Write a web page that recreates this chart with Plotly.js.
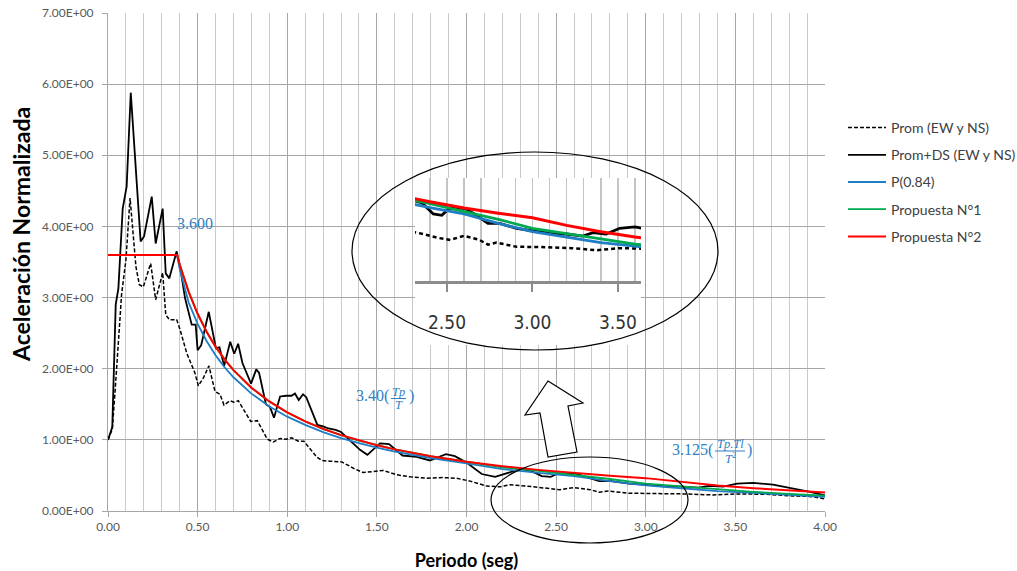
<!DOCTYPE html>
<html>
<head>
<meta charset="utf-8">
<script src="https://cdn.plot.ly/plotly-3.0.1.min.js"></script>
<style>
  html, body { margin: 0; padding: 0; background: #ffffff; }
  #chart { width: 1017px; height: 571px; }
</style>
</head>
<body>
<div id="chart"></div>
<script>
// ---- Spectra: period T (s) vs normalized acceleration ----
const promT = [0, 0.024, 0.04, 0.058, 0.076, 0.100, 0.123, 0.156, 0.175, 0.197, 0.238, 0.266, 0.305, 0.322, 0.342, 0.383,
  0.402, 0.439, 0.485, 0.504, 0.532, 0.563, 0.597, 0.625, 0.647, 0.681, 0.703, 0.727, 0.774, 0.796, 0.833, 0.889,
  0.922, 0.960, 0.993, 1.025, 1.062, 1.093, 1.164, 1.192, 1.239, 1.304, 1.378, 1.424, 1.536, 1.610, 1.685, 1.778,
  1.871, 1.945, 2.020, 2.113, 2.187, 2.243, 2.336, 2.447, 2.520, 2.600, 2.690, 2.740, 2.790, 2.906, 3.080, 3.228,
  3.377, 3.510, 3.675, 3.823, 3.916, 4.000];
const promSa = [1.00, 1.15, 1.70, 2.45, 3.05, 3.53, 4.40, 3.43, 3.18, 3.15, 3.48, 2.97, 3.35, 2.76, 2.69, 2.69,
  2.55, 2.22, 1.94, 1.76, 1.87, 2.04, 1.68, 1.64, 1.49, 1.55, 1.53, 1.55, 1.34, 1.26, 1.27, 1.01,
  0.97, 1.02, 1.01, 1.03, 0.98, 0.98, 0.76, 0.71, 0.70, 0.69, 0.59, 0.54, 0.57, 0.51, 0.48, 0.46,
  0.47, 0.46, 0.42, 0.35, 0.34, 0.37, 0.35, 0.315, 0.30, 0.33, 0.30, 0.265, 0.28, 0.25, 0.247, 0.24,
  0.225, 0.24, 0.235, 0.21, 0.205, 0.17];

const promDsT = [0, 0.024, 0.043, 0.058, 0.082, 0.104, 0.127, 0.182, 0.201, 0.244, 0.266, 0.305, 0.322, 0.342, 0.383, 0.402,
  0.430, 0.467, 0.489, 0.500, 0.520, 0.562, 0.602, 0.622, 0.648, 0.682, 0.704, 0.726, 0.750, 0.798, 0.827, 0.843,
  0.881, 0.904, 0.926, 0.960, 0.995, 1.023, 1.043, 1.064, 1.088, 1.106, 1.168, 1.200, 1.230, 1.270, 1.300, 1.369,
  1.406, 1.447, 1.517, 1.568, 1.643, 1.722, 1.796, 1.885, 1.935, 2.000, 2.085, 2.160, 2.243, 2.300, 2.354, 2.420,
  2.470, 2.512, 2.605, 2.672, 2.740, 2.808, 2.906, 3.003, 3.100, 3.198, 3.295, 3.354, 3.432, 3.510, 3.600, 3.710,
  3.823, 3.916, 4.000];
const promDsSa = [1.00, 1.18, 2.90, 3.13, 4.25, 4.56, 5.88, 3.79, 3.86, 4.42, 3.76, 4.25, 3.34, 3.27, 3.65, 3.43,
  2.99, 2.62, 2.62, 2.26, 2.33, 2.80, 2.29, 2.30, 2.04, 2.38, 2.21, 2.35, 2.08, 1.79, 1.99, 1.94,
  1.50, 1.46, 1.31, 1.61, 1.62, 1.62, 1.65, 1.56, 1.64, 1.60, 1.21, 1.19, 1.16, 1.14, 1.11, 0.94,
  0.86, 0.79, 0.95, 0.94, 0.78, 0.76, 0.71, 0.80, 0.77, 0.68, 0.52, 0.48, 0.55, 0.59, 0.57, 0.49,
  0.48, 0.53, 0.53, 0.48, 0.42, 0.42, 0.385, 0.367, 0.348, 0.343, 0.328, 0.353, 0.343, 0.385, 0.395, 0.37,
  0.32, 0.27, 0.22];

const p84T = [0.385, 0.40, 0.45, 0.50, 0.55, 0.60, 0.65, 0.70, 0.80, 0.90, 1.00, 1.10, 1.20, 1.30, 1.40, 1.50,
  1.60, 1.80, 2.00, 2.20, 2.40, 2.60, 2.80, 3.00, 3.20, 3.40, 3.60, 3.80, 4.00];
const p84Sa = [3.60, 3.40, 2.93, 2.63, 2.39, 2.19, 2.02, 1.88, 1.65, 1.47, 1.326, 1.21, 1.11, 1.025, 0.955, 0.89,
  0.836, 0.745, 0.668, 0.59, 0.535, 0.49, 0.42, 0.36, 0.32, 0.28, 0.255, 0.225, 0.20];

const prop1T = [0.385, 0.40, 0.45, 0.50, 0.55, 0.60, 0.65, 0.70, 0.80, 0.90, 1.00, 1.10, 1.20, 1.30, 1.40, 1.50,
  1.60, 1.80, 2.00, 2.20, 2.40, 2.60, 2.80, 3.00, 3.20, 3.40, 3.60, 3.80, 4.00];
const prop1Sa = [3.60, 3.465, 3.08, 2.772, 2.52, 2.31, 2.132, 1.98, 1.733, 1.54, 1.386, 1.26, 1.155, 1.066, 0.99, 0.924,
  0.866, 0.77, 0.693, 0.615, 0.565, 0.51, 0.45, 0.385, 0.345, 0.305, 0.27, 0.24, 0.215];

const prop2T = [0, 0.385, 0.40, 0.45, 0.50, 0.55, 0.60, 0.65, 0.70, 0.80, 0.90, 1.00, 1.10, 1.20, 1.30, 1.40,
  1.50, 1.60, 1.80, 2.00, 2.20, 2.40, 2.60, 2.80, 3.00, 3.20, 3.40, 3.60, 3.80, 4.00];
const prop2Sa = [3.60, 3.60, 3.465, 3.08, 2.772, 2.52, 2.31, 2.132, 1.98, 1.733, 1.54, 1.386, 1.26, 1.155, 1.066, 0.99,
  0.924, 0.866, 0.77, 0.693, 0.63, 0.578, 0.533, 0.495, 0.462, 0.406, 0.36, 0.321, 0.288, 0.26];

const seriesNames = ['Prom (EW y NS)', 'Prom+DS (EW y NS)', 'P(0.84)', 'Propuesta N°1', 'Propuesta N°2'];
const yTickVals = [0, 1, 2, 3, 4, 5, 6, 7];
const yTickText = ['0.00E+00', '1.00E+00', '2.00E+00', '3.00E+00', '4.00E+00', '5.00E+00', '6.00E+00', '7.00E+00'];
const insetTickVals = [2.5, 3.0, 3.5];
const insetTickText = ['2.50', '3.00', '3.50'];

// ---- page geometry (pixels -> paper fractions) ----
const W = 1017, H = 571;
const M = { l: 108, r: 192, t: 13, b: 60, autoexpand: false };
const pw = W - M.l - M.r, ph = H - M.t - M.b;
const fx = px => (px - M.l) / pw;
const fy = py => (H - M.b - py) / ph;

const BLUE_TXT = '#2e7fc4';
const styles = [
  { color: '#000000', width: 1.5, dash: '4px,2px' },
  { color: '#000000', width: 1.8, dash: 'solid' },
  { color: '#1f7dc6', width: 1.8, dash: 'solid' },
  { color: '#00a84f', width: 1.8, dash: 'solid' },
  { color: '#ff0000', width: 2.0, dash: 'solid' }
];
const seriesX = [promT, promDsT, p84T, prop1T, prop2T];
const seriesY = [promSa, promDsSa, p84Sa, prop1Sa, prop2Sa];

const traces = [];
seriesX.forEach((xs, i) => {
  traces.push({
    type: 'scatter', mode: 'lines', x: xs, y: seriesY[i], name: seriesNames[i],
    legendgroup: 'g' + i, line: styles[i], hoverinfo: 'skip'
  });
});
// blank panel behind the magnified view's tick labels
traces.push({ type: 'scatter', mode: 'lines', x: [], y: [], xaxis: 'x2', yaxis: 'y2',
  showlegend: false, hoverinfo: 'skip' });
// magnified view of the long-period range
seriesX.forEach((xs, i) => {
  traces.push({
    type: 'scatter', mode: 'lines', x: xs, y: seriesY[i], xaxis: 'x3', yaxis: 'y3',
    showlegend: false, hoverinfo: 'skip', cliponaxis: true,
    line: { color: styles[i].color, width: styles[i].width + 1, dash: i === 0 ? '4px,3px' : 'solid' }
  });
});

const sans = 'Lato, "Liberation Sans", sans-serif';
const tickFont = { family: sans, size: 12, color: '#595959' };
const insetBox = { x0: 415, x1: 641, top: 178, axis: 281, bottom: 345 };

const arrowPts = [[548, 381], [583, 403], [568, 406], [577, 452], [548, 457], [540, 413], [525, 415]];
const arrowPath = 'M ' + arrowPts.map(p => fx(p[0]) + ',' + fy(p[1])).join(' L ') + ' Z';

const serif = 'Liberation Serif, "DejaVu Serif", serif';
function txt(text, px, py, size, xanchor) {
  return { text: text, x: fx(px), y: fy(py), xref: 'paper', yref: 'paper', showarrow: false,
    xanchor: xanchor || 'center', yanchor: 'middle', font: { family: serif, size: size, color: BLUE_TXT } };
}

const layout = {
  width: W, height: H,
  margin: M,
  paper_bgcolor: '#ffffff', plot_bgcolor: '#ffffff',
  showlegend: true,
  legend: {
    x: fx(843), y: fy(112), xanchor: 'left', yanchor: 'top',
    font: { family: sans, size: 14, color: '#404040' },
    bgcolor: 'rgba(0,0,0,0)', tracegroupgap: 6, itemwidth: 38
  },
  xaxis: {
    range: [0, 4], tick0: 0, dtick: 0.5, tickformat: '.2f',
    showgrid: true, gridcolor: '#a6a6a6', gridwidth: 1,
    minor: { dtick: 0.1, showgrid: true, gridcolor: '#cacaca', gridwidth: 1 },
    showline: true, linecolor: '#a6a6a6', linewidth: 1, zeroline: false,
    ticks: 'outside', ticklen: 5, tickcolor: '#a6a6a6',
    tickfont: tickFont,
    title: { text: 'Periodo (seg)', standoff: 21,
      font: { family: sans, size: 18, color: '#000000', weight: 'bold' } }
  },
  yaxis: {
    range: [0, 7], tickvals: yTickVals, ticktext: yTickText,
    showgrid: true, gridcolor: '#a6a6a6', gridwidth: 1,
    showline: true, linecolor: '#a6a6a6', linewidth: 1, zeroline: false,
    ticks: 'outside', ticklen: 5, tickcolor: '#a6a6a6', ticklabelstandoff: 6,
    tickfont: tickFont
  },
  xaxis2: { domain: [fx(insetBox.x0), fx(insetBox.x1)], anchor: 'y2', visible: false, range: [0, 1] },
  yaxis2: { domain: [fy(insetBox.bottom), fy(insetBox.axis)], anchor: 'x2', visible: false, range: [0, 1] },
  xaxis3: {
    domain: [fx(insetBox.x0), fx(insetBox.x1)], anchor: 'y3', range: [2.313, 3.635],
    tickvals: insetTickVals, ticktext: insetTickText,
    showgrid: true, gridcolor: '#c4c4c4', gridwidth: 1.5,
    minor: { dtick: 0.1, tick0: 0, showgrid: true, gridcolor: '#c4c4c4', gridwidth: 1.5 },
    showline: true, linecolor: '#8c8c8c', linewidth: 2.5, zeroline: false,
    ticks: 'outside', ticklen: 8, tickwidth: 2, tickcolor: '#8c8c8c', ticklabelstandoff: 15,
    tickfont: { family: '"Liberation Sans Narrow", "DejaVu Sans Condensed", "Roboto Condensed", Roboto, sans-serif', size: 19, color: '#333333' }
  },
  yaxis3: {
    domain: [fy(insetBox.axis), fy(insetBox.top)], anchor: 'x3', range: [0, 0.752],
    showgrid: false, showline: false, zeroline: false, showticklabels: false, ticks: ''
  },
  shapes: [
    { type: 'circle', xref: 'paper', yref: 'paper', x0: fx(352), x1: fx(718), y0: fy(350), y1: fy(152),
      line: { color: '#000000', width: 1.2 }, fillcolor: 'rgba(0,0,0,0)', layer: 'above' },
    { type: 'circle', xref: 'paper', yref: 'paper', x0: fx(491), x1: fx(688), y0: fy(543), y1: fy(457),
      line: { color: '#000000', width: 1.2 }, fillcolor: 'rgba(0,0,0,0)', layer: 'above' },
    { type: 'path', xref: 'paper', yref: 'paper', path: arrowPath,
      line: { color: '#000000', width: 1.2 }, fillcolor: '#ffffff', layer: 'above' },
    { type: 'line', xref: 'paper', yref: 'paper', x0: fx(391), x1: fx(406), y0: fy(398.5), y1: fy(398.5),
      line: { color: BLUE_TXT, width: 1 } },
    { type: 'line', xref: 'paper', yref: 'paper', x0: fx(715), x1: fx(745), y0: fy(451), y1: fy(451),
      line: { color: BLUE_TXT, width: 1 } }
  ],
  annotations: [
    // vertical axis title
    { text: 'Aceleración Normalizada', x: fx(21), y: fy(235), xref: 'paper', yref: 'paper',
      showarrow: false, textangle: -90, xanchor: 'center', yanchor: 'middle',
      font: { family: sans, size: 23, color: '#000000', weight: 'bold' } },
    txt('3.600', 195, 223, 16),
    txt('3.40(', 391, 396, 16, 'right'),
    txt('<i>Tp</i>', 398.5, 391.5, 12.5),
    txt('<i>T</i>', 398.5, 405, 12.5),
    txt(')', 406.5, 396, 16, 'left'),
    txt('3.125(', 715, 450, 16, 'right'),
    txt('<i>Tp.Tl</i>', 730, 444, 12.5),
    txt('<i>T</i><sup>2</sup>', 730, 458, 12.5),
    txt(')', 745, 450, 16, 'left')
  ]
};

Plotly.newPlot('chart', traces, layout, { displayModeBar: false, staticPlot: true });
</script>
</body>
</html>
